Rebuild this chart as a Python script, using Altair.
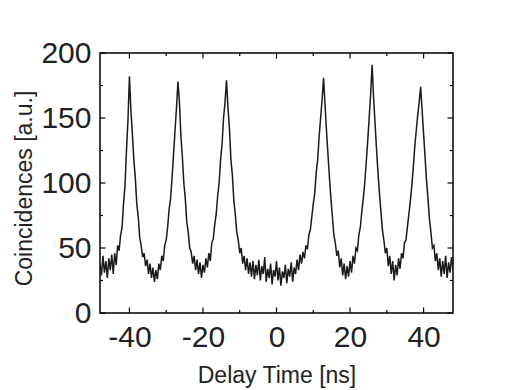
import altair as alt
import pandas as pd
import numpy as np

# Delay-time bins (ns): uniform histogram bins
delay_start = -48.0
delay_step = 0.4

# Coincidence counts, one per bin
counts = [
    38, 29, 44, 31, 40, 27, 42, 33, 45, 30, 46, 37, 52, 48, 60, 66, 84, 98, 125, 148,
    182,
    156, 138, 118, 104, 84, 74, 58, 52, 43, 46, 36, 41, 30, 38, 27, 35, 24, 33, 26, 38,
    33, 44, 40, 52, 56, 66, 80, 88, 104, 122, 140, 158,
    178,
    162, 136, 120, 100, 88, 70, 62, 50, 47, 38, 44, 33, 41, 30, 39, 27, 37, 31, 42, 35,
    46, 40, 54, 57, 68, 76, 90, 100, 118, 130, 150, 162,
    179,
    158, 142, 118, 106, 86, 76, 62, 56, 46, 50, 38, 44, 33, 42, 30, 39, 28, 40, 26, 37,
    29, 41, 25, 36, 30, 43, 24, 34, 27, 38, 22, 33, 28, 40, 25, 35, 21, 32, 27, 37,
    23, 34, 28, 39, 24, 35, 30, 41, 33, 45, 38, 47, 42,
    52, 49, 60, 64, 74, 84, 92, 108, 118, 136, 150, 164,
    181,
    160, 140, 122, 104, 88, 74, 60, 54, 44, 48, 35, 42, 29, 38, 26, 36, 28, 40,
    31, 44, 38, 50, 48, 60, 66, 78, 88, 100, 116, 132, 150, 168,
    191,
    166, 146, 126, 108, 92, 78, 64, 56, 46, 50, 36, 44, 30, 40, 25, 37, 29, 42,
    34, 46, 42, 54, 56, 66, 76, 86, 98, 112, 128, 140, 152, 162,
    174,
    156, 138, 120, 102, 88, 72, 62, 50, 52, 40, 46, 33, 42, 28, 40, 30, 44, 27, 39, 31, 43, 34,
]

x_labels = [-40, -20, 0, 20, 40]
x_minor = [-30, -10, 10, 30]
y_labels = [0, 50, 100, 150, 200]
y_minor = [25, 75, 125, 175]

delays = np.round(delay_start + delay_step * np.arange(len(counts)), 2)
df = pd.DataFrame({"delay": delays, "count": counts})

W, H = 353, 260
FONT = "Liberation Sans"
TXT = "#222222"

xscale = alt.Scale(domain=[-48, 48], nice=False, zero=False)
yscale = alt.Scale(domain=[0, 200], nice=False)

line = alt.Chart(df).mark_line(color="#1a1a1a", strokeWidth=1.5, clip=True).encode(
    x=alt.X("delay:Q", scale=xscale,
            axis=alt.Axis(values=x_labels, ticks=False, domain=False, grid=False,
                          labelFontSize=30, labelFont=FONT, labelColor=TXT,
                          labelPadding=9, labelFlush=False, labelOverlap=False,
                          labelExpr="'' + datum.value",
                          title="Delay Time [ns]", titleFont=FONT, titleFontSize=23,
                          titleFontWeight="normal", titleColor=TXT,
                          titleY=69, titleBaseline="alphabetic")),
    y=alt.Y("count:Q", scale=yscale,
            axis=alt.Axis(values=y_labels, ticks=False, domain=False, grid=False,
                          labelFontSize=30, labelFont=FONT, labelColor=TXT,
                          labelPadding=9, labelOverlap=False,
                          title="Coincidences [a.u.]", titleFont=FONT, titleFontSize=23,
                          titleFontWeight="normal", titleColor=TXT,
                          titleX=-69, titleY=135, titleBaseline="alphabetic")),
)


def xticks(vals, length):
    d = pd.DataFrame({"v": vals})
    bottom = alt.Chart(d).mark_rule(color="black", strokeWidth=1.2).encode(
        x=alt.X("v:Q", scale=xscale), y=alt.value(H - length), y2=alt.value(H))
    top = alt.Chart(d).mark_rule(color="black", strokeWidth=1.2).encode(
        x=alt.X("v:Q", scale=xscale), y=alt.value(0), y2=alt.value(length))
    return [bottom, top]


def yticks(vals, length):
    d = pd.DataFrame({"v": vals})
    left = alt.Chart(d).mark_rule(color="black", strokeWidth=1.2).encode(
        y=alt.Y("v:Q", scale=yscale), x=alt.value(0), x2=alt.value(length))
    right = alt.Chart(d).mark_rule(color="black", strokeWidth=1.2).encode(
        y=alt.Y("v:Q", scale=yscale), x=alt.value(W - length), x2=alt.value(W))
    return [left, right]


layers = [line] + xticks(x_labels, 5.5) + xticks(x_minor, 3) + yticks(y_labels, 5.5) + yticks(y_minor, 3)

chart = alt.layer(*layers).properties(
    width=W, height=H,
    padding={"left": 92, "top": 45, "right": 49, "bottom": 76},
    autosize=alt.AutoSizeParams(type="none"),
    background="white",
).configure_view(stroke="black", strokeWidth=1.5)

chart.save("out.html", embed_options={"renderer": "svg", "actions": False})
